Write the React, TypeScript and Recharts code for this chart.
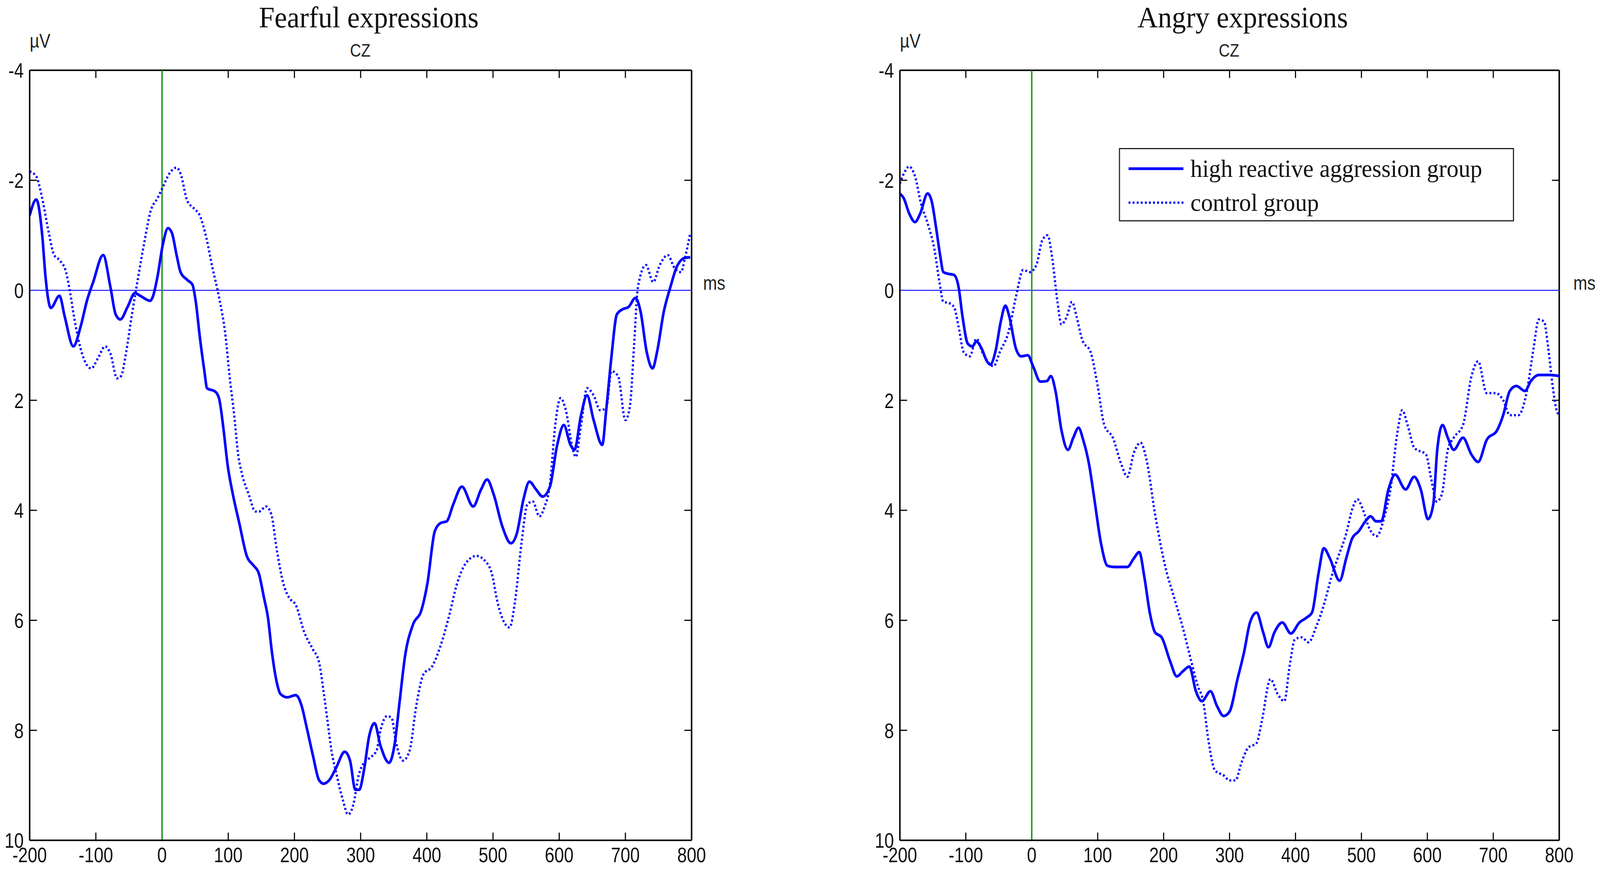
import React from 'react';
import { LineChart, Line, XAxis, YAxis, ReferenceLine, Legend } from 'recharts';

// ---------- axis ticks ----------
const timeTicks = [-200, -100, 0, 100, 200, 300, 400, 500, 600, 700, 800];
const voltTicks = [-4, -2, 0, 2, 4, 6, 8, 10];

// ---------- series labels ----------
const seriesNames = ['high reactive aggression group', 'control group'];
const panelTitles = ['Fearful expressions', 'Angry expressions'];

// ---------- data: [time (ms), amplitude (µV)] ----------
const fearfulHigh: [number, number][] = [
  [-200, -1.36], [-190, -1.65], [-181, -1.0], [-176, -0.24], [-168, 0.32], [-155, 0.1], [-147, 0.48],
  [-134, 1.02], [-123, 0.66], [-113, 0.17], [-104, -0.15], [-89, -0.64], [-78, -0.06], [-70, 0.44],
  [-63, 0.53], [-52, 0.3], [-41, 0.05], [-33, 0.1], [-18, 0.19], [-14, 0.12], [-7, -0.24], [1, -0.82],
  [9, -1.13], [15, -1.04], [22, -0.64], [28, -0.33], [38, -0.19], [46, -0.1], [51, 0.21], [57, 0.84],
  [64, 1.47], [68, 1.78], [80, 1.84], [86, 1.96], [93, 2.54], [99, 3.17], [107, 3.71], [117, 4.25],
  [128, 4.83], [138, 5.0], [146, 5.14], [154, 5.59], [160, 5.95], [166, 6.58], [173, 7.11], [179, 7.34],
  [189, 7.4], [202, 7.36], [211, 7.56], [218, 7.92], [228, 8.46], [237, 8.9], [244, 8.97], [253, 8.9],
  [263, 8.68], [276, 8.39], [284, 8.55], [292, 9.08], [298, 9.08], [305, 8.73], [313, 8.1], [321, 7.87],
  [330, 8.28], [343, 8.59], [351, 8.28], [359, 7.47], [367, 6.66], [379, 6.08], [392, 5.81], [401, 5.32],
  [412, 4.38], [421, 4.23], [430, 4.2], [440, 3.89], [453, 3.57], [470, 3.93], [482, 3.62], [491, 3.44],
  [501, 3.71], [514, 4.29], [527, 4.6], [536, 4.42], [546, 3.8], [555, 3.48], [565, 3.62], [575, 3.75],
  [586, 3.57], [597, 2.81], [607, 2.45], [617, 2.81], [623, 2.9], [633, 2.27], [642, 1.91], [652, 2.36],
  [665, 2.81], [671, 2.18], [679, 1.2], [687, 0.44], [695, 0.35], [705, 0.3], [715, 0.14], [723, 0.39],
  [732, 1.11], [741, 1.42], [748, 1.11], [758, 0.39], [768, -0.06], [777, -0.41], [790, -0.59], [798, -0.6],
];

const fearfulControl: [number, number][] = [
  [-200, -2.16], [-190, -2.07], [-181, -1.67], [-171, -1.04], [-163, -0.64], [-155, -0.55], [-145, -0.33],
  [-139, 0.03], [-133, 0.48], [-123, 1.06], [-115, 1.33], [-107, 1.42], [-97, 1.24], [-86, 1.02],
  [-78, 1.15], [-68, 1.6], [-62, 1.56], [-54, 1.11], [-46, 0.48], [-36, -0.24], [-27, -0.86], [-17, -1.45],
  [-7, -1.67], [1, -1.87], [11, -2.12], [22, -2.23], [28, -2.12], [38, -1.63], [48, -1.49], [57, -1.36],
  [67, -0.95], [76, -0.42], [86, 0.12], [96, 0.84], [102, 1.56], [109, 2.27], [115, 2.99], [121, 3.35],
  [131, 3.71], [141, 4.02], [147, 4.02], [157, 3.93], [165, 4.07], [173, 4.69], [183, 5.32], [192, 5.59],
  [202, 5.72], [215, 6.22], [228, 6.53], [237, 6.75], [244, 7.29], [250, 7.83], [256, 8.37], [264, 8.82],
  [273, 9.26], [281, 9.53], [289, 9.35], [297, 8.82], [305, 8.59], [314, 8.5], [324, 8.37], [330, 8.0],
  [340, 7.74], [347, 7.78], [353, 8.19], [364, 8.55], [374, 8.37], [384, 7.56], [395, 6.98], [408, 6.84],
  [420, 6.49], [433, 5.95], [446, 5.32], [459, 4.96], [475, 4.83], [488, 4.92], [498, 5.14], [507, 5.68],
  [517, 6.04], [525, 6.13], [533, 5.68], [543, 4.6], [552, 3.89], [560, 3.84], [570, 4.11], [578, 3.93],
  [586, 3.53], [594, 2.45], [602, 1.96], [610, 2.18], [620, 2.86], [625, 3.03], [633, 2.45], [642, 1.78],
  [652, 1.91], [662, 2.18], [671, 2.14], [679, 1.47], [689, 1.56], [700, 2.36], [707, 2.09], [713, 1.02],
  [719, -0.06], [731, -0.46], [742, -0.15], [752, -0.46], [764, -0.64], [774, -0.41], [784, -0.33],
  [790, -0.59], [798, -1.04],
];

const angryHigh: [number, number][] = [
  [-200, -1.76], [-194, -1.67], [-186, -1.4], [-177, -1.24], [-169, -1.4], [-158, -1.76], [-152, -1.63],
  [-145, -1.13], [-139, -0.64], [-134, -0.33], [-127, -0.3], [-118, -0.28], [-111, -0.06], [-105, 0.48],
  [-97, 0.97], [-90, 1.02], [-84, 0.93], [-76, 1.06], [-68, 1.29], [-63, 1.35], [-55, 1.11], [-47, 0.57],
  [-40, 0.28], [-34, 0.48], [-24, 1.06], [-16, 1.2], [-6, 1.18], [2, 1.38], [13, 1.66], [23, 1.65],
  [29, 1.56], [36, 1.83], [45, 2.54], [55, 2.9], [63, 2.68], [71, 2.5], [78, 2.72], [87, 3.17], [95, 3.8],
  [105, 4.6], [115, 5.01], [126, 5.03], [145, 5.03], [155, 4.87], [163, 4.76], [171, 5.23], [179, 5.86],
  [187, 6.22], [197, 6.31], [210, 6.75], [220, 7.02], [229, 6.93], [239, 6.84], [249, 7.29], [258, 7.47],
  [271, 7.29], [281, 7.56], [291, 7.74], [300, 7.66], [312, 7.07], [322, 6.58], [331, 6.04], [341, 5.86],
  [351, 6.22], [359, 6.49], [368, 6.22], [380, 6.04], [393, 6.24], [406, 6.04], [417, 5.95], [425, 5.86],
  [435, 5.14], [443, 4.69], [452, 4.87], [467, 5.28], [477, 4.87], [486, 4.51], [496, 4.38], [506, 4.2],
  [514, 4.11], [522, 4.2], [530, 4.2], [541, 3.62], [551, 3.35], [567, 3.62], [580, 3.39], [590, 3.62],
  [601, 4.16], [609, 3.89], [615, 2.9], [623, 2.45], [631, 2.68], [640, 2.9], [654, 2.68], [667, 2.99],
  [677, 3.12], [690, 2.72], [706, 2.54], [715, 2.27], [725, 1.83], [735, 1.74], [748, 1.83], [757, 1.65],
  [769, 1.54], [786, 1.54], [800, 1.56],
];

const angryControl: [number, number][] = [
  [-200, -1.94], [-194, -2.12], [-186, -2.25], [-177, -2.07], [-168, -1.58], [-158, -1.22], [-148, -0.77],
  [-140, -0.15], [-134, 0.21], [-126, 0.23], [-118, 0.3], [-111, 0.66], [-103, 1.13], [-94, 1.2],
  [-84, 0.88], [-74, 1.15], [-58, 1.38], [-48, 1.11], [-35, 0.75], [-24, 0.12], [-13, -0.37], [-3, -0.33],
  [7, -0.46], [16, -0.91], [24, -1.0], [31, -0.59], [39, 0.21], [45, 0.62], [53, 0.48], [61, 0.21],
  [68, 0.48], [76, 0.88], [90, 1.15], [100, 1.74], [110, 2.45], [123, 2.68], [136, 3.17], [145, 3.39],
  [155, 2.95], [165, 2.77], [174, 3.08], [187, 4.07], [203, 5.05], [216, 5.59], [229, 6.13], [242, 6.75],
  [252, 7.2], [260, 7.47], [268, 8.19], [278, 8.73], [291, 8.82], [300, 8.91], [309, 8.91], [318, 8.59],
  [328, 8.32], [341, 8.23], [349, 7.83], [362, 7.07], [373, 7.34], [383, 7.47], [391, 6.84], [399, 6.35],
  [409, 6.31], [420, 6.4], [431, 6.13], [444, 5.68], [454, 5.23], [464, 4.87], [477, 4.42], [486, 3.98],
  [494, 3.8], [502, 3.98], [512, 4.33], [523, 4.47], [535, 4.11], [544, 3.62], [554, 2.63], [562, 2.18],
  [570, 2.45], [580, 2.86], [598, 2.99], [606, 3.44], [614, 3.84], [622, 3.71], [631, 2.9], [640, 2.68],
  [654, 2.45], [667, 1.56], [677, 1.29], [690, 1.87], [704, 1.87], [715, 2.0], [725, 2.27], [738, 2.27],
  [751, 1.83], [761, 1.06], [769, 0.53], [777, 0.57], [783, 1.02], [790, 1.74], [796, 2.18], [800, 2.27],
];

const toPoints = (arr: [number, number][]) => arr.map(([t, v]) => ({ t, v }));

const BLUE = '#0000FF';
const DOT_DASH = '5 6';
const SANS = '"Liberation Sans", Arial, sans-serif';
const SERIF = '"Liberation Serif", "Times New Roman", serif';
const W = 4317;
const H = 2228;
const X_TICK_LEN = 11; // ms (inward tick length)
const Y_TICK_LEN = 0.14; // µV (inward tick length)
const CONDENSE = 0.86;

const squeeze = (x: number, y: number, k: number) =>
  `translate(${x} ${y}) scale(${k} 1) translate(${-x} ${-y})`;

const XTick = (props: any) => {
  const { x, y, payload } = props;
  return (
    <text
      x={x}
      y={y}
      dy="0.71em"
      textAnchor="middle"
      fontSize={54}
      fontFamily={SANS}
      fill="#111"
      transform={squeeze(x, y, CONDENSE)}
    >
      {payload.value}
    </text>
  );
};

const YTick = (props: any) => {
  const { x, y, payload } = props;
  return (
    <text
      x={x}
      y={y}
      dy="0.36em"
      textAnchor="end"
      fontSize={54}
      fontFamily={SANS}
      fill="#111"
      transform={squeeze(x, y, CONDENSE)}
    >
      {payload.value}
    </text>
  );
};

const LegendContent = () => (
  <div
    style={{
      width: 1066,
      height: 188,
      border: '3px solid #222',
      background: '#fff',
      boxSizing: 'border-box',
      position: 'relative',
    }}
  >
    <svg width={1060} height={182} style={{ position: 'absolute', left: 0, top: 0 }}>
      {seriesNames.map((name, i) => {
        const cy = i === 0 ? 50 : 137;
        return (
          <g key={name}>
            <line
              x1={23}
              x2={171}
              y1={cy}
              y2={cy}
              stroke={BLUE}
              strokeWidth={i === 0 ? 7 : 6}
              strokeDasharray={i === 0 ? undefined : DOT_DASH}
            />
            <text x={190} y={cy + 21} fontFamily={SERIF} fontSize={64} fill="#111">
              {name}
            </text>
          </g>
        );
      })}
    </svg>
  </div>
);

type PanelProps = {
  left: number;
  width: number;
  marginRight: number;
  title: string;
  titleX: number;
  czX: number;
  high: [number, number][];
  control: [number, number][];
  showLegend: boolean;
};

const Panel = ({ left, width, marginRight, title, titleX, czX, high, control, showLegend }: PanelProps) => {
  const axisLine = { stroke: '#000', strokeWidth: 4 };
  const tickStroke = { stroke: '#000', strokeWidth: 3 };
  const ids = { xAxisId: 'b', yAxisId: 'l' } as const;
  return (
    <div style={{ position: 'absolute', left, top: 0, width, height: H }}>
      <LineChart width={width} height={H} margin={{ top: 180, right: marginRight, bottom: 16, left: 0 }}>
        <XAxis
          xAxisId="b"
          dataKey="t"
          type="number"
          domain={[-200, 800]}
          ticks={timeTicks}
          interval={0}
          allowDataOverflow
          orientation="bottom"
          height={60}
          tickLine={false}
          tickSize={0}
          tickMargin={18}
          axisLine={axisLine}
          tick={<XTick />}
        />
        <YAxis
          yAxisId="l"
          type="number"
          domain={[-4, 10]}
          ticks={voltTicks}
          interval={0}
          reversed
          allowDataOverflow
          orientation="left"
          width={80}
          tickLine={false}
          tickSize={0}
          tickMargin={16}
          axisLine={axisLine}
          tick={<YTick />}
        />
        {/* box: top and right edges */}
        <ReferenceLine {...ids} y={-4} stroke="#000" strokeWidth={4} />
        <ReferenceLine {...ids} x={800} stroke="#000" strokeWidth={4} />
        {/* inward tick marks on bottom and top edges */}
        {timeTicks.map((t) => (
          <ReferenceLine
            key={`bt${t}`}
            {...ids}
            segment={[{ x: t, y: 10 }, { x: t, y: 10 - Y_TICK_LEN }]}
            {...tickStroke}
          />
        ))}
        {timeTicks.map((t) => (
          <ReferenceLine
            key={`tt${t}`}
            {...ids}
            segment={[{ x: t, y: -4 }, { x: t, y: -4 + Y_TICK_LEN }]}
            {...tickStroke}
          />
        ))}
        {/* inward tick marks on left and right edges */}
        {voltTicks.map((v) => (
          <ReferenceLine
            key={`lt${v}`}
            {...ids}
            segment={[{ x: -200, y: v }, { x: -200 + X_TICK_LEN, y: v }]}
            {...tickStroke}
          />
        ))}
        {voltTicks.map((v) => (
          <ReferenceLine
            key={`rt${v}`}
            {...ids}
            segment={[{ x: 800, y: v }, { x: 800 - X_TICK_LEN, y: v }]}
            {...tickStroke}
          />
        ))}
        <ReferenceLine {...ids} y={0} stroke="#3a3aff" strokeWidth={3} />
        <ReferenceLine {...ids} x={0} stroke="#1f9a1f" strokeWidth={4} />
        <Line
          {...ids}
          data={toPoints(high)}
          dataKey="v"
          name={seriesNames[0]}
          type="monotone"
          stroke={BLUE}
          strokeWidth={7}
          dot={false}
          activeDot={false}
          isAnimationActive={false}
        />
        <Line
          {...ids}
          data={toPoints(control)}
          dataKey="v"
          name={seriesNames[1]}
          type="monotone"
          stroke={BLUE}
          strokeWidth={6}
          strokeDasharray={DOT_DASH}
          dot={false}
          activeDot={false}
          isAnimationActive={false}
        />
        {showLegend && (
          <Legend
            layout="vertical"
            align="center"
            verticalAlign="middle"
            content={<LegendContent />}
            wrapperStyle={{ left: 671, top: 379, width: 1066, height: 188 }}
          />
        )}
      </LineChart>
      <svg
        width={width}
        height={H}
        style={{ position: 'absolute', left: 0, top: 0, pointerEvents: 'none' }}
      >
        <text x={titleX} y={70} textAnchor="middle" fontFamily={SERIF} fontSize={76} fill="#111">
          {title}
        </text>
        <text
          x={czX}
          y={145}
          textAnchor="middle"
          fontFamily={SANS}
          fontSize={46}
          fill="#222"
          transform={squeeze(czX, 145, 0.9)}
        >
          CZ
        </text>
        <text x={80} y={122} fontFamily={SANS} fontSize={50} fill="#222" transform={squeeze(80, 122, 0.9)}>
          µV
        </text>
        <text x={1897} y={742} fontFamily={SANS} fontSize={50} fill="#222" transform={squeeze(1897, 742, 0.9)}>
          ms
        </text>
      </svg>
    </div>
  );
};

export default function App() {
  const vw = typeof window !== 'undefined' ? window.innerWidth : W;
  const sx = Math.min(1, vw / W);
  return (
    <div
      style={{
        position: 'absolute',
        left: 0,
        top: 0,
        width: W,
        height: H,
        background: '#fff',
        transform: `scale(${sx}, 1)`,
        transformOrigin: '0 0',
      }}
    >
      <Panel
        left={0}
        width={2150}
        marginRight={284}
        title={panelTitles[0]}
        titleX={995}
        czX={972}
        high={fearfulHigh}
        control={fearfulControl}
        showLegend={false}
      />
      <Panel
        left={2348}
        width={1969}
        marginRight={110}
        title={panelTitles[1]}
        titleX={1005}
        czX={968}
        high={angryHigh}
        control={angryControl}
        showLegend={true}
      />
    </div>
  );
}
